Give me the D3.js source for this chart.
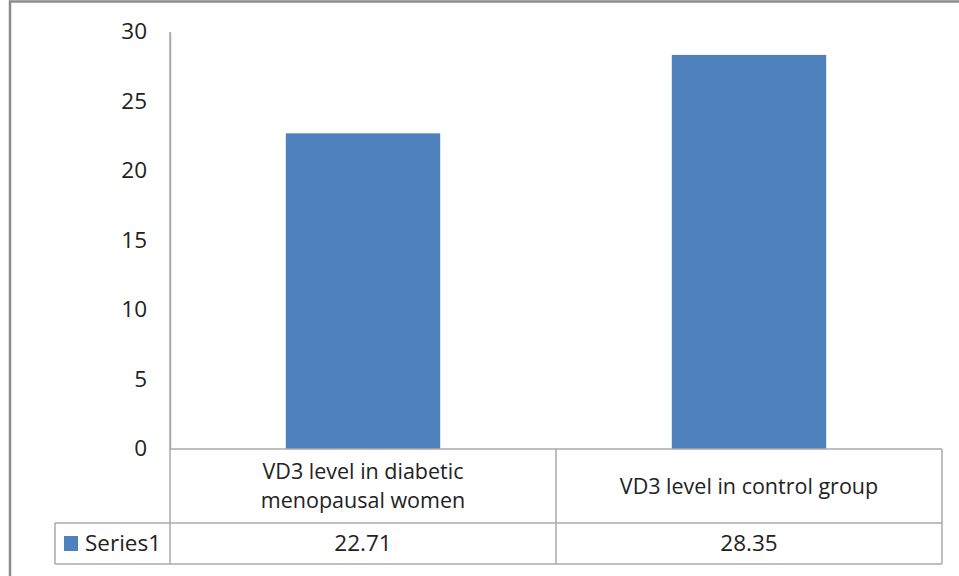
<!DOCTYPE html>
<html>
<head>
<meta charset="utf-8">
<script src="https://cdn.jsdelivr.net/npm/d3@7"></script>
<style>
  html, body { margin: 0; padding: 0; background: #fff; }
  svg { display: block; font-family: "Open Sans", Lato, sans-serif; }
</style>
</head>
<body>
<svg id="chart" width="959" height="576"></svg>
<script>
// Data
const categories = ["VD3 level in diabetic menopausal women", "VD3 level in control group"];
const categoryLines = [["VD3 level in diabetic", "menopausal women"], ["VD3 level in control group"]];
const seriesName = "Series1";
const values = [22.71, 28.35];
const yTicks = [0, 5, 10, 15, 20, 25, 30];

const svg = d3.select("#chart");
const W = 959, H = 576;
const fontSize = 22.5;
const catFontSize = 21.5;

// Chart frame
const plot = { left: 170, right: 942, top: 32, bottom: 449 };
const tableRows = [449, 523, 564];
const legendLeft = 55;
const gridColor = "#aaaaaa";
const barColor = "#4f81bd";
const textColor = "#222";

// Outer border (left and top edges are visible)
svg.append("path")
  .attr("d", `M10,${H} L10,1.5 L${W},1.5`)
  .attr("fill", "none").attr("stroke", "#8c8c8c").attr("stroke-width", 2.5);

const x = d3.scaleBand().domain(categories).range([plot.left, plot.right]).paddingInner(0.6).paddingOuter(0.3);
const y = d3.scaleLinear().domain([0, 30]).range([plot.bottom, plot.top]);

// Bars
svg.append("g").selectAll("rect").data(values).join("rect")
  .attr("x", (d, i) => x(categories[i]))
  .attr("y", d => y(d))
  .attr("width", x.bandwidth())
  .attr("height", d => y(0) - y(d))
  .attr("fill", barColor);

// Y axis (line only, no tick marks)
const yAxis = d3.axisLeft(y).tickValues(yTicks).tickSize(0).tickPadding(23).tickFormat(d3.format("d"));
const gy = svg.append("g").attr("transform", `translate(${plot.left},0)`).call(yAxis);
gy.select(".domain").attr("stroke", gridColor).attr("stroke-width", 1.5);
gy.selectAll("text").attr("font-size", fontSize).attr("fill", textColor)
  .attr("font-family", "'Open Sans', sans-serif").attr("dy", "0.3em");

// Data table below the plot
const colEdges = [plot.left, (plot.left + plot.right) / 2, plot.right];
const tg = svg.append("g").attr("stroke", gridColor).attr("stroke-width", 1.5).attr("fill", "none");
// horizontal rules
tg.append("line").attr("x1", plot.left).attr("x2", plot.right).attr("y1", tableRows[0]).attr("y2", tableRows[0]);
tg.append("line").attr("x1", legendLeft).attr("x2", plot.right).attr("y1", tableRows[1]).attr("y2", tableRows[1]);
tg.append("line").attr("x1", legendLeft).attr("x2", plot.right).attr("y1", tableRows[2]).attr("y2", tableRows[2]);
// vertical rules
tg.append("line").attr("x1", legendLeft).attr("x2", legendLeft).attr("y1", tableRows[1]).attr("y2", tableRows[2]);
colEdges.forEach(cx => {
  tg.append("line").attr("x1", cx).attr("x2", cx)
    .attr("y1", cx === plot.left ? plot.top : tableRows[0]).attr("y2", tableRows[2]);
});

// Category labels (wrapped into tspans)
categoryLines.forEach((lines, i) => {
  const cx = (colEdges[i] + colEdges[i + 1]) / 2;
  const midY = (tableRows[0] + tableRows[1]) / 2;
  const lh = 29.5;
  const t = svg.append("text")
    .attr("text-anchor", "middle")
    .attr("font-size", catFontSize)
    .attr("fill", textColor);
  lines.forEach((line, j) => {
    t.append("tspan")
      .attr("x", cx)
      .attr("y", midY + (j - (lines.length - 1) / 2) * lh)
      .attr("dy", "0.35em")
      .text(line);
  });
});

// Values row
values.forEach((v, i) => {
  const cx = (colEdges[i] + colEdges[i + 1]) / 2;
  svg.append("text")
    .attr("x", cx).attr("y", (tableRows[1] + tableRows[2]) / 2)
    .attr("dy", "0.35em").attr("text-anchor", "middle")
    .attr("font-size", fontSize).attr("fill", textColor)
    .text(v.toFixed(2));
});

// Legend key cell
const keyY = (tableRows[1] + tableRows[2]) / 2;
svg.append("rect").attr("x", 64).attr("y", keyY - 7.5).attr("width", 14).attr("height", 15).attr("fill", barColor);
svg.append("text").attr("x", 85).attr("y", keyY).attr("dy", "0.35em")
  .attr("font-size", fontSize).attr("fill", textColor).text(seriesName);
</script>
</body>
</html>
